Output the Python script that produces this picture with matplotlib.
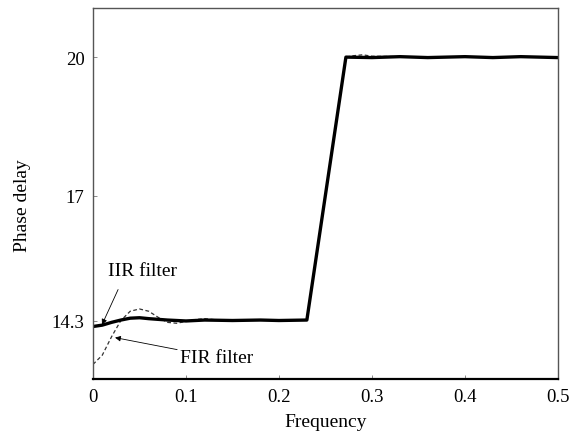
import numpy as np
import matplotlib
matplotlib.use("Agg")
import matplotlib.pyplot as plt

plt.rcParams['font.family'] = ['Liberation Serif', 'DejaVu Serif']

# IIR filter phase delay (solid)
iir_f = [0, 0.01, 0.02, 0.03, 0.04, 0.05, 0.06, 0.08, 0.10, 0.12, 0.15, 0.18, 0.20, 0.23,
         0.272, 0.30, 0.33, 0.36, 0.40, 0.43, 0.46, 0.50]
iir_d = [14.17, 14.20, 14.26, 14.31, 14.35, 14.36, 14.34, 14.31, 14.29, 14.31, 14.30, 14.31, 14.30, 14.31,
         20.00, 19.99, 20.01, 19.99, 20.01, 19.99, 20.01, 19.99]

# FIR filter phase delay (dashed)
fir_f = [0, 0.01, 0.02, 0.03, 0.04, 0.05, 0.06, 0.07, 0.08, 0.09, 0.10, 0.11, 0.12, 0.13, 0.15,
         0.18, 0.20, 0.23, 0.272, 0.28, 0.29, 0.30, 0.33, 0.36, 0.40, 0.43, 0.46, 0.50]
fir_d = [13.35, 13.55, 13.95, 14.30, 14.50, 14.55, 14.50, 14.37, 14.26, 14.24, 14.28, 14.32, 14.34, 14.32, 14.30,
         14.31, 14.30, 14.31, 20.00, 20.03, 20.05, 20.02, 20.01, 19.99, 20.01, 19.99, 20.01, 19.99]

xticks = [0, 0.1, 0.2, 0.3, 0.4, 0.5]
xticklabels = ['0', '0.1', '0.2', '0.3', '0.4', '0.5']
yticks = [14.3, 17, 20]
yticklabels = ['14.3', '17', '20']

fig = plt.figure(figsize=(5.74, 4.35), dpi=100)
ax = fig.add_axes([0.162, 0.126, 0.81, 0.853])

ax.plot(fir_f, fir_d, color='#333333', lw=0.9, ls=(0, (3, 2)))
ax.plot(iir_f, iir_d, color='black', lw=2.4)

ax.set_xlim(0, 0.5)
ax.set_ylim(13.03, 21.06)
ax.set_xticks(xticks)
ax.set_xticklabels(xticklabels)
ax.set_yticks(yticks)
ax.set_yticklabels(yticklabels)
ax.tick_params(direction='in', length=3, width=0.6, color='#777777', labelsize=13.5, pad=6)
for s in ['top', 'left', 'right']:
    ax.spines[s].set_color('#555555')
    ax.spines[s].set_linewidth(1.0)
ax.spines['bottom'].set_color('black')
ax.spines['bottom'].set_linewidth(1.6)

ax.set_xlabel('Frequency', fontsize=14, labelpad=6)
ax.set_ylabel('Phase delay', fontsize=14)
ax.yaxis.set_label_coords(-0.133, 0.47)

arrow = dict(arrowstyle='-|>', color='black', lw=0.6, mutation_scale=8, shrinkA=0, shrinkB=0)
ax.text(0.053, 15.38, 'IIR filter', fontsize=14, ha='center', va='center')
ax.annotate('', xy=(0.0097, 14.21), xytext=(0.027, 14.97), arrowprops=arrow)
ax.text(0.1325, 13.5, 'FIR filter', fontsize=14, ha='center', va='center')
ax.annotate('', xy=(0.0237, 13.93), xytext=(0.0905, 13.67), arrowprops=arrow)

fig.savefig('out.png', dpi=100)
